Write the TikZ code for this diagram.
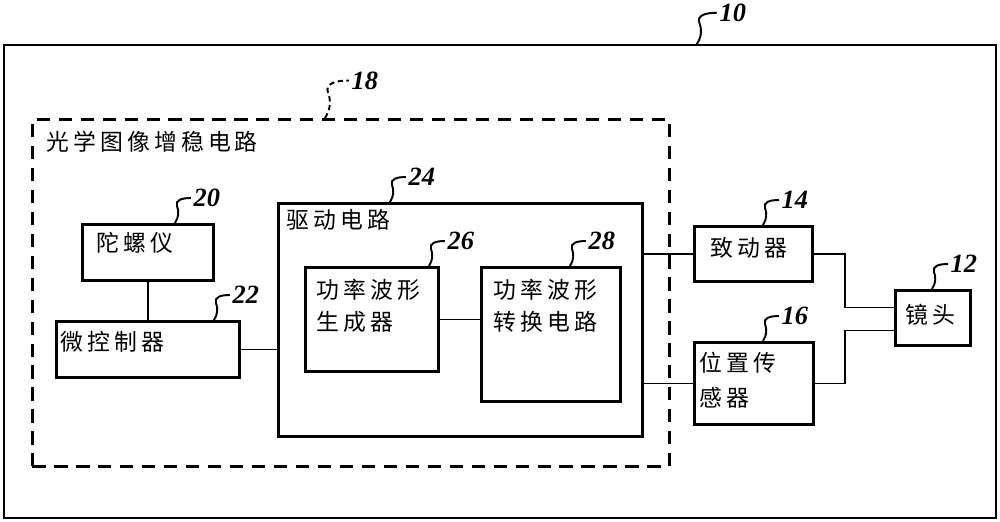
\documentclass[tikz,border=0pt]{standalone}
\usepackage{fontspec}
\setmainfont{Liberation Serif}
\newfontfamily\cjk[LetterSpace=18]{Noto Sans CJK SC}
\newcommand{\tagline}[5][1]{%
  \draw[leader,#2] (#3) .. controls +(4*#1,-6*#1) and +(2*#1,5*#1) .. ++(2*#1,-17*#1)
    .. controls +(-2*#1,-6*#1) and +(-9*#1,0) .. ++(14*#1,-8*#1)
    node[num,anchor=west] (#4) {#5};}

\begin{document}
\begin{tikzpicture}[x=0.02cm,y=-0.02cm,
  blk/.style={draw,line width=1.6pt,inner sep=0pt,anchor=north west},
  wire/.style={line width=0.9pt},
  leader/.style={line width=1.1pt},
  num/.style={font=\fontsize{15}{17}\selectfont\bfseries\itshape,inner sep=1pt},
  txt/.style={font=\cjk\fontsize{13}{18}\selectfont,inner sep=0pt,align=left}]
\useasboundingbox (0,0) rectangle (1000,521);
% boxes
\node[blk,line width=1.3pt,minimum width=19.84cm,minimum height=9.46cm] (cam) at (3,44) {};
\node[blk,dash pattern=on 7.5pt off 5pt,minimum width=12.74cm,minimum height=6.94cm] (ois) at (31,118) {};
\node[blk,minimum width=2.62cm,minimum height=1.12cm] (gyro) at (81,223) {};
\node[blk,minimum width=3.66cm,minimum height=1.12cm] (mcu) at (55,320) {};
\node[blk,minimum width=7.28cm,minimum height=4.66cm] (drv) at (277,202) {};
\node[blk,minimum width=2.66cm,minimum height=2.08cm] (gen) at (304,266) {};
\node[blk,minimum width=2.78cm,minimum height=2.68cm] (conv) at (480,266) {};
\node[blk,minimum width=2.36cm,minimum height=1.1cm] (act) at (693,225) {};
\node[blk,minimum width=2.38cm,minimum height=1.64cm] (pos) at (693,341) {};
\node[blk,minimum width=1.5cm,minimum height=1.1cm] (lens) at (894,289) {};
% texts
\node[txt,anchor=west] (ttl) at (46,142) {光学图像增稳电路};
\node[txt,anchor=west] (gyro-t) at (96,243) {陀螺仪};
\node[txt,anchor=west] (mcu-t) at (60,342) {微控制器};
\node[txt,anchor=west] (drv-t) at (286,220) {驱动电路};
\node[txt,anchor=west] (gen-t) at (316,306) {功率波形\\生成器};
\node[txt,anchor=west] (conv-t) at (493,306) {功率波形\\转换电路};
\node[txt,anchor=west] (act-t) at (710,248) {致动器};
\node[txt,anchor=west] (pos-t) at (699,380) {位置传\\[2pt]感器};
\node[txt,anchor=west] (lens-t) at (905,315) {镜头};
% wires
\coordinate (jx) at (845,0);
\draw[wire] (gyro.south) -- (gyro.south |- mcu.north);
\draw[wire] (mcu.east) -- (mcu.east -| drv.west);
\draw[wire] (gen.east) -- (gen.east -| conv.west);
\draw[wire] (act.west -| drv.east) -- (act.west);
\draw[wire] (pos.west -| drv.east) -- (pos.west);
\draw[wire] (act.east) -- (act.east -| jx) |- ([yshift=0.21cm]lens.west);
\draw[wire] (pos.east) -- (pos.east -| jx) |- ([yshift=-0.25cm]lens.west);
% reference numbers
\tagline[1.25]{}{[xshift=13.88cm]cam.north west}{n10}{10}
\tagline[1.5]{dash pattern=on 3pt off 2pt}{[xshift=5.88cm]ois.north west}{n18}{18}
\tagline{}{[xshift=1.88cm]gyro.north west}{n20}{20}
\tagline{}{[xshift=3.18cm]mcu.north west}{n22}{22}
\tagline{}{[xshift=2.26cm]drv.north west}{n24}{24}
\tagline{}{[xshift=2.5cm]gen.north west}{n26}{26}
\tagline{}{[xshift=1.8cm]conv.north west}{n28}{28}
\tagline{}{[xshift=1.4cm]act.north west}{n14}{14}
\tagline{}{[xshift=1.4cm]pos.north west}{n16}{16}
\tagline{}{[xshift=0.76cm]lens.north west}{n12}{12}
\end{tikzpicture}
\end{document}
